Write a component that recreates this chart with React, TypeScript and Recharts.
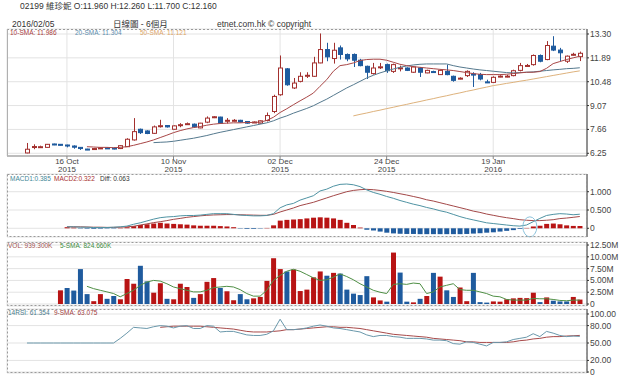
import React from 'react';
import { ComposedChart, Bar, Line, XAxis, YAxis, CartesianGrid, Cell, ReferenceDot } from 'recharts';

const FONT = '"Liberation Sans", Arial, "Noto Sans CJK TC", sans-serif';
const RED = '#b81414';
const BLUE = '#1f5b9e';

// x ticks (trading-day index)
const TICK_IDX = [6, 22, 38, 54, 70];
const TICK_DAY = ['16 Oct', '10 Nov', '02 Dec', '24 Dec', '19 Jan'];
const TICK_YEAR = ['2015', '2015', '2015', '2015', '2016'];

const PRICE_TICKS = [6.25, 7.66, 9.07, 10.48, 11.89, 13.3];
const MACD_TICKS = [0, 0.5, 1];
const VOL_TICKS = [0, 2.5, 5, 7.5, 10, 12.5];
const RSI_TICKS = [0, 20, 50, 80, 100];

// daily candles, 2015/10/08 - 2016/02/05
const OPEN = [
  6.27, 6.63, 6.62, 6.6, 6.8, 6.78, 6.74, 6.68, 6.6, 6.5,
  6.5, 6.52, 6.57, 6.56, 6.53, 6.64, 7.04, 7.67, 7.57, 7.43,
  7.86, 7.89, 7.67, 7.92, 7.98, 7.97, 7.75, 8.09, 8.35, 8.39,
  8.18, 8.18, 8.2, 8.13, 8.08, 8.03, 8.19, 8.72, 9.71, 11.24,
  10.11, 10.5, 10.84, 10.8, 11.59, 12.38, 11.85, 12.48, 12.09, 12.09,
  11.75, 11.39, 10.96, 11.34, 11.49, 11.09, 11.28, 11.29, 11.04, 11.29,
  11.0, 11.08, 10.9, 11.09, 10.8, 10.66, 10.84, 10.93, 10.9, 10.47,
  10.44, 10.79, 10.79, 10.84, 11.15, 11.42, 11.49, 12.03, 11.79, 12.58,
  12.35, 11.69, 12.08, 11.96,
];
const HIGH = [
  6.86, 6.78, 6.7, 6.8, 6.82, 6.8, 6.76, 6.72, 6.62, 6.52,
  6.56, 6.6, 6.6, 6.58, 6.72, 7.14, 8.33, 7.71, 7.61, 7.89,
  8.23, 7.92, 7.9, 8.03, 8.07, 8.01, 8.05, 8.43, 8.45, 8.41,
  8.33, 8.27, 8.23, 8.15, 8.13, 8.19, 8.66, 9.71, 12.03, 11.29,
  10.7, 11.04, 11.04, 11.95, 13.33, 12.78, 12.78, 12.62, 12.15, 12.15,
  11.83, 11.43, 11.59, 11.59, 11.55, 11.55, 11.43, 11.33, 11.39, 11.35,
  11.19, 11.13, 11.19, 11.49, 10.84, 10.74, 11.15, 11.04, 11.0, 10.6,
  10.8, 10.86, 10.88, 11.19, 11.59, 11.53, 12.09, 12.09, 12.88, 13.17,
  12.48, 12.03, 12.19, 12.26,
];
const LOW = [
  6.25, 6.49, 6.58, 6.58, 6.73, 6.71, 6.6, 6.52, 6.45, 6.44,
  6.48, 6.5, 6.52, 6.48, 6.5, 6.62, 7.0, 7.39, 7.38, 7.39,
  7.77, 7.77, 7.65, 7.79, 7.93, 7.77, 7.73, 8.03, 8.33, 8.01,
  8.01, 8.13, 8.07, 8.0, 8.05, 8.01, 8.13, 8.62, 9.65, 10.24,
  10.05, 10.44, 10.7, 10.76, 11.57, 11.69, 11.55, 11.79, 11.69, 11.35,
  11.39, 10.64, 10.9, 11.23, 11.0, 11.0, 11.09, 11.11, 11.0, 10.76,
  10.98, 11.0, 10.88, 10.86, 10.48, 10.62, 10.76, 10.17, 10.56, 10.4,
  10.4, 10.74, 10.74, 10.8, 11.09, 11.37, 11.43, 11.63, 11.75, 12.29,
  11.69, 11.59, 12.03, 11.7,
];
const CLOSE = [
  6.49, 6.65, 6.64, 6.78, 6.75, 6.73, 6.68, 6.61, 6.53, 6.46,
  6.53, 6.57, 6.56, 6.51, 6.7, 7.08, 7.53, 7.47, 7.42, 7.81,
  7.88, 7.81, 7.87, 7.94, 8.0, 7.81, 8.03, 8.33, 8.41, 8.03,
  8.2, 8.2, 8.1, 8.03, 8.1, 8.17, 8.48, 9.61, 11.29, 10.3,
  10.4, 10.8, 10.86, 11.59, 12.38, 11.95, 12.34, 12.09, 11.83, 11.75,
  11.43, 11.04, 11.29, 11.36, 11.13, 11.49, 11.3, 11.15, 11.35, 11.04,
  11.15, 11.05, 11.15, 10.9, 10.56, 10.69, 11.09, 10.88, 10.64, 10.44,
  10.74, 10.81, 10.81, 11.13, 11.43, 11.44, 12.03, 11.69, 12.62, 12.35,
  12.19, 11.99, 12.1, 12.16,
];

// moving averages (first value index given by *_START)
const SMA10_START = 9;
const SMA10 = [
  6.64, 6.62, 6.6, 6.6, 6.58, 6.6, 6.64, 6.72, 6.82, 6.92,
  7.04, 7.18, 7.32, 7.47, 7.59, 7.69, 7.77, 7.83, 7.91, 7.97,
  8.01, 8.03, 8.05, 8.05, 8.07, 8.07, 8.09, 8.19, 8.38, 8.66,
  8.88, 9.12, 9.35, 9.57, 9.81, 10.21, 10.6, 11.1, 11.43, 11.49,
  11.59, 11.73, 11.79, 11.81, 11.81, 11.75, 11.63, 11.51, 11.43, 11.37,
  11.33, 11.29, 11.25, 11.21, 11.18, 11.14, 11.08, 11.02, 10.96, 10.92,
  10.9, 10.9, 10.9, 10.92, 10.96, 11.0, 11.04, 11.04, 11.08, 11.27,
  11.55, 11.67, 11.79, 11.89, 11.986,
];
const SMA20_START = 19;
const SMA20 = [
  6.88, 6.9, 6.92, 6.96, 7.02, 7.08, 7.14, 7.22, 7.3, 7.4,
  7.49, 7.57, 7.65, 7.73, 7.81, 7.89, 7.97, 8.05, 8.17, 8.33,
  8.46, 8.62, 8.76, 8.9, 9.06, 9.26, 9.45, 9.67, 9.89, 10.11,
  10.3, 10.5, 10.7, 10.86, 11.0, 11.12, 11.23, 11.33, 11.41, 11.47,
  11.51, 11.53, 11.53, 11.53, 11.53, 11.43, 11.35, 11.29, 11.23, 11.18,
  11.14, 11.1, 11.06, 11.02, 11.0, 11.02, 11.04, 11.06, 11.1, 11.14,
  11.18, 11.21, 11.25, 11.27, 11.304,
];
const SMA50_START = 49;
const SMA50 = [
  8.46, 8.55, 8.63, 8.72, 8.8, 8.89, 8.97, 9.06, 9.14, 9.23,
  9.31, 9.4, 9.48, 9.57, 9.65, 9.74, 9.82, 9.91, 9.99, 10.08,
  10.16, 10.25, 10.31, 10.38, 10.44, 10.51, 10.57, 10.64, 10.71, 10.78,
  10.85, 10.92, 10.99, 11.06, 11.121,
];

// MACD (from index 6)
const MACD_START = 6;
const MACD1 = [
  0.04, 0.04, 0.03, 0.03, 0.02, 0.02, 0.02, 0.03, 0.04, 0.06,
  0.11, 0.15, 0.2, 0.25, 0.29, 0.31, 0.32, 0.34, 0.35, 0.35,
  0.36, 0.38, 0.4, 0.4, 0.4, 0.38, 0.36, 0.35, 0.34, 0.34,
  0.35, 0.4, 0.56, 0.64, 0.68, 0.77, 0.83, 0.89, 1.02, 1.07,
  1.15, 1.2, 1.21, 1.19, 1.14, 1.05, 0.98, 0.93, 0.87, 0.82,
  0.76, 0.71, 0.66, 0.62, 0.57, 0.53, 0.48, 0.44, 0.38, 0.32,
  0.27, 0.23, 0.19, 0.15, 0.13, 0.11, 0.09, 0.07, 0.06, 0.09,
  0.18, 0.27, 0.35, 0.38, 0.4, 0.39, 0.37, 0.385,
];
const MACD2 = [
  0.04, 0.04, 0.04, 0.035, 0.03, 0.03, 0.025, 0.025, 0.03, 0.04,
  0.055, 0.09, 0.12, 0.155, 0.18, 0.21, 0.245, 0.27, 0.3, 0.32,
  0.34, 0.355, 0.365, 0.37, 0.375, 0.375, 0.37, 0.365, 0.36, 0.355,
  0.355, 0.38, 0.445, 0.5, 0.555, 0.62, 0.665, 0.71, 0.77, 0.83,
  0.89, 0.945, 1.0, 1.035, 1.055, 1.065, 1.055, 1.035, 1.01, 0.98,
  0.945, 0.91, 0.87, 0.83, 0.78, 0.745, 0.7, 0.655, 0.61, 0.565,
  0.52, 0.47, 0.435, 0.39, 0.355, 0.32, 0.29, 0.265, 0.235, 0.22,
  0.21, 0.21, 0.22, 0.235, 0.265, 0.28, 0.3, 0.322,
];
const MACD_DIFF = [
  0.03, 0.02, -0.01, -0.015, -0.02, -0.015, -0.01, -0.01, 0.01, 0.03,
  0.06, 0.09, 0.11, 0.13, 0.15, 0.13, 0.12, 0.11, 0.1, 0.08,
  0.07, 0.07, 0.07, 0.06, 0.05, 0.03, -0.01, -0.02, -0.02, -0.01,
  0.01, 0.08, 0.21, 0.23, 0.24, 0.25, 0.27, 0.29, 0.3, 0.29,
  0.27, 0.23, 0.15, 0.09, 0.02, -0.04, -0.06, -0.09, -0.12, -0.14,
  -0.15, -0.155, -0.155, -0.16, -0.16, -0.16, -0.16, -0.16, -0.16, -0.16,
  -0.155, -0.145, -0.135, -0.12, -0.11, -0.09, -0.07, -0.05, -0.02, 0.01,
  0.05, 0.07, 0.12, 0.13, 0.11, 0.08, 0.065, 0.063,
];

// volume in millions (from index 5), R = up day, B = down day
const VOL_START = 5;
const VOLUME = [
  2.9, 3.4, 2.85, 7.4, 2.1, 0.6, 2.1, 1.1, 1.7, 1.0,
  5.3, 4.3, 8.1, 4.8, 2.4, 4.4, 1.1, 1.0, 4.3, 3.6,
  1.3, 2.1, 4.7, 5.5, 3.4, 2.7, 0.8, 2.1, 1.0, 1.2,
  1.5, 4.9, 9.7, 7.4, 6.9, 7.3, 2.75, 3.05, 5.65, 6.9,
  6.0, 6.6, 6.45, 3.05, 2.2, 1.9, 5.9, 1.4, 0.76, 0.5,
  10.9, 6.66, 0.5, 0.35, 1.1, 1.7, 6.6, 5.8, 2.9, 1.5,
  3.5, 0.6, 6.6, 0.4, 0.3, 0.55, 0.5, 1.0, 1.2, 1.3,
  1.25, 2.4, 0.4, 1.4, 0.7, 0.55, 0.55, 1.5, 0.9393,
];
const VOL_DIR = 'RBBBBRRBBR' + 'RRBBRRBRRR' + 'BRRRBRRBBR' + 'RRRRBRRRRR' + 'BRBBBBBRRB' + 'RBBRBRBRBB' + 'RRBBBRRRRR' + 'RRBRBBBRR';
const VOL_SMA_START = 9;
const VOL_SMA5 = [
  3.75, 3.26, 2.91, 2.57, 2.22, 1.53, 2.22, 2.91, 3.96, 4.65,
  5.0, 4.86, 4.3, 3.61, 3.26, 2.91, 2.57, 2.57, 2.91, 3.47,
  3.61, 3.75, 3.61, 3.05, 2.22, 1.67, 1.67, 2.91, 5.0, 6.04,
  6.94, 7.36, 6.94, 6.25, 5.55, 5.0, 5.14, 5.69, 6.38, 5.83,
  5.14, 4.3, 3.61, 2.91, 2.5, 2.22, 4.16, 4.3, 4.16, 4.44,
  4.3, 2.22, 2.57, 3.61, 3.96, 4.3, 3.05, 2.91, 2.91, 2.57,
  2.22, 1.67, 1.53, 0.97, 0.83, 0.83, 0.83, 1.18, 1.11, 1.11,
  0.97, 0.76, 0.69, 0.83, 0.82466,
];

// 14-day RSI and its 9-day average
const RSI = [
  50, 50, 50, 50, 50, 50, 50, 50, 50, 50,
  50, 50, 50, 50, 58, 67, 77, 76, 75, 78,
  80, 79, 76, 79, 80, 75, 75, 80, 79, 69,
  70, 70, 67, 64, 63, 63, 65, 71, 91, 73,
  73, 74, 76, 79, 81, 79, 76, 75, 73, 71,
  69, 64, 61, 63, 63, 61, 60, 58, 58, 58,
  57, 55, 55, 54, 49, 48, 52, 51, 48, 45,
  51, 51, 52, 56, 58, 60, 66, 61, 70, 67,
  63, 61, 62, 61.354,
];
const RSI_SMA_START = 20;
const RSI_SMA9 = [
  77, 78, 79, 79, 79, 79, 79, 78, 77, 76,
  75, 74, 72, 70, 69, 69, 69, 70, 71, 73,
  73, 74, 75, 76, 77, 78, 78, 77, 77, 76,
  75, 73, 71, 69, 67, 65, 64, 63, 62, 61,
  60, 58, 57, 56, 55, 54, 52, 52, 51, 51,
  51, 51, 51, 52, 54, 55, 57, 58, 60, 61,
  61, 62, 62.5, 63.075,
];

const at = (arr: number[], start: number, i: number) =>
  i >= start && i - start < arr.length ? arr[i - start] : null;

const rows = OPEN.map((o, i) => ({
  i,
  o,
  h: HIGH[i],
  l: LOW[i],
  c: CLOSE[i],
  range: [LOW[i], HIGH[i]],
  sma10: at(SMA10, SMA10_START, i),
  sma20: at(SMA20, SMA20_START, i),
  sma50: at(SMA50, SMA50_START, i),
  macd1: at(MACD1, MACD_START, i),
  macd2: at(MACD2, MACD_START, i),
  diff: at(MACD_DIFF, MACD_START, i),
  vol: at(VOLUME, VOL_START, i),
  volUp: VOL_DIR[i - VOL_START] === 'R',
  volSma: at(VOL_SMA5, VOL_SMA_START, i),
  rsi: RSI[i],
  rsiSma: at(RSI_SMA9, RSI_SMA_START, i),
}));

const last = rows.length - 1;
const X_DOMAIN = [-3, 84.08];

function Candle(props: any) {
  const { x, y, width, height, payload } = props;
  if (!payload || x == null || y == null) return null;
  const top = Math.min(y, y + height);
  const bot = Math.max(y, y + height);
  const span = payload.h - payload.l;
  const ppu = span > 0 ? (bot - top) / span : 0;
  const py = (v: number) => top + (payload.h - v) * ppu;
  const up = payload.c >= payload.o;
  const color = up ? '#a3302e' : BLUE;
  const cx = Math.round(x + width / 2) + 0.5;
  const yo = py(payload.o);
  const yc = py(payload.c);
  const bt = Math.min(yo, yc);
  const bh = Math.max(Math.abs(yo - yc), 1);
  return (
    <g>
      <line x1={cx} x2={cx} y1={top} y2={bot} stroke={color} strokeWidth={1} />
      <rect x={cx - 2} y={bt} width={4} height={bh} fill={up ? '#fff' : color} stroke={color} strokeWidth={1} />
    </g>
  );
}

function DateTick(props: any) {
  const { x, y, payload } = props;
  const k = TICK_IDX.indexOf(payload.value);
  if (k < 0) return null;
  return (
    <text x={x} y={y} textAnchor="middle" fontSize={8} fill="#444" fontFamily={FONT}>
      <tspan x={x} dy={4.5}>{TICK_DAY[k]}</tspan>
      <tspan x={x} dy={8}>{TICK_YEAR[k]}</tspan>
    </text>
  );
}

const yTick = { fontSize: 8.5, fill: '#444', fontFamily: FONT };

function RightAxis({ domain, ticks, fmt }: { domain: number[]; ticks: number[]; fmt: (v: number) => string }) {
  return (
    <YAxis
      orientation="right"
      domain={domain}
      allowDataOverflow
      ticks={ticks}
      interval={0}
      tickFormatter={fmt}
      width={38}
      tick={yTick}
      tickSize={2}
      tickMargin={1}
      axisLine={{ stroke: '#333' }}
      tickLine={{ stroke: '#333' }}
    />
  );
}

function HiddenX() {
  return (
    <XAxis
      dataKey="i"
      type="number"
      domain={X_DOMAIN}
      allowDataOverflow
      ticks={TICK_IDX}
      interval={0}
      height={0}
      tick={false}
      tickLine={false}
      axisLine={false}
    />
  );
}

// lower panels: chart is padded 6px above and below its plot area so tick labels are not clipped
const PAD = 6;
const panel = (top: number): React.CSSProperties => ({ position: 'absolute', left: 0, top: top - PAD });
const margin = { top: PAD, right: 0, bottom: PAD, left: 7 };

export default function App() {
  const lbl = { fontSize: 6.5, fontFamily: FONT };
  return (
    <div style={{ position: 'absolute', left: 0, top: 0, width: 625, height: 380, background: '#fff', overflow: 'hidden' }}>
      <div style={{ position: 'absolute', left: 0, top: 0 }}>
        <ComposedChart width={625} height={175} data={rows} margin={{ top: 29, right: 0, bottom: 0, left: 7 }}>
          <CartesianGrid stroke="#e3e3e3" />
          <XAxis
            dataKey="i"
            type="number"
            domain={X_DOMAIN}
            allowDataOverflow
            ticks={TICK_IDX}
            interval={0}
            height={19}
            tick={(p: any) => <DateTick {...p} />}
            tickSize={3}
            tickMargin={0}
            axisLine={{ stroke: '#888' }}
            tickLine={{ stroke: '#888' }}
          />
          {RightAxis({ domain: [6.09, 13.595], ticks: PRICE_TICKS, fmt: (v) => v.toFixed(2) })}
          <Bar dataKey="range" barSize={5} shape={(p: any) => <Candle {...p} />} isAnimationActive={false} />
          <Line dataKey="sma50" stroke="#deb27c" strokeWidth={1} dot={false} isAnimationActive={false} />
          <Line dataKey="sma20" stroke="#55798e" strokeWidth={1} dot={false} isAnimationActive={false} />
          <Line dataKey="sma10" stroke="#a84646" strokeWidth={1} dot={false} isAnimationActive={false} />
        </ComposedChart>
      </div>

      <div style={panel(174)}>
        <ComposedChart width={625} height={63 + 2 * PAD} data={rows} margin={margin}>
          <CartesianGrid stroke="#e3e3e3" />
          {HiddenX()}
          {RightAxis({ domain: [-0.238, 1.484], ticks: MACD_TICKS, fmt: (v) => (v === 0 ? '0' : v.toFixed(3)) })}
          <Bar dataKey="diff" barSize={5} isAnimationActive={false}>
            {rows.map((r) => (
              <Cell key={r.i} fill={(r.diff ?? 0) >= 0 ? RED : BLUE} />
            ))}
          </Bar>
          <Line dataKey="macd2" stroke="#a34848" strokeWidth={1} dot={false} isAnimationActive={false} />
          <Line dataKey="macd1" stroke="#4f93a3" strokeWidth={1} dot={false} isAnimationActive={false} />
          <ReferenceDot
            x={75.5}
            y={0.04}
            r={10}
            shape={(p: any) => <ellipse cx={p.cx} cy={p.cy} rx={7} ry={10} fill="none" stroke="#8cc3dc" strokeWidth={1} />}
          />
        </ComposedChart>
      </div>

      <div style={panel(242)}>
        <ComposedChart width={625} height={64 + 2 * PAD} data={rows} margin={margin}>
          <CartesianGrid stroke="#e3e3e3" />
          {HiddenX()}
          {RightAxis({ domain: [-0.42, 13.14], ticks: VOL_TICKS, fmt: (v) => (v === 0 ? '0' : v.toFixed(2) + 'M') })}
          <Bar dataKey="vol" barSize={5} isAnimationActive={false}>
            {rows.map((r) => (
              <Cell key={r.i} fill={r.volUp ? RED : BLUE} />
            ))}
          </Bar>
          <Line dataKey="volSma" stroke="#4f8f45" strokeWidth={1} dot={false} isAnimationActive={false} />
        </ComposedChart>
      </div>

      <div style={panel(309)}>
        <ComposedChart width={625} height={64 + 2 * PAD} data={rows} margin={margin}>
          <CartesianGrid stroke="#e3e3e3" />
          {HiddenX()}
          {RightAxis({ domain: [-1.7, 108.6], ticks: RSI_TICKS, fmt: (v) => (v === 0 ? '0' : v.toFixed(2)) })}
          <Line dataKey="rsiSma" stroke="#a84a4a" strokeWidth={1} dot={false} isAnimationActive={false} />
          <Line dataKey="rsi" stroke="#6a98ab" strokeWidth={1} dot={false} isAnimationActive={false} />
        </ComposedChart>
      </div>

      <svg width={625} height={380} style={{ position: 'absolute', left: 0, top: 0, pointerEvents: 'none' }}>
        <line x1={7} x2={587} y1={29.5} y2={29.5} stroke="#9a9a9a" strokeDasharray="2 2" />
        <line x1={7.5} x2={7.5} y1={29} y2={156} stroke="#b0b0b0" />
        <rect x={7.5} y={174.5} width={579} height={62} fill="none" stroke="#9a9a9a" strokeDasharray="2 2" />
        <rect x={7.5} y={242.5} width={579} height={63} fill="none" stroke="#9a9a9a" strokeDasharray="2 2" />
        <rect x={7.5} y={309.5} width={579} height={63} fill="none" stroke="#9a9a9a" strokeDasharray="2 2" />

        <g fontFamily={FONT} fontSize={8.5} fill="#333">
          <text x={20} y={9}>
            {`02199 維珍妮 O:${OPEN[last].toFixed(3)} H:${HIGH[last].toFixed(3)} L:${LOW[last].toFixed(3)} C:${CLOSE[last].toFixed(3)}`}
          </text>
          <text x={12} y={27}>2016/02/05</text>
          <text x={113} y={27}>日線圖 - 6個月</text>
          <text x={217} y={27}>etnet.com.hk © copyright</text>
        </g>

        <g {...lbl}>
          <text x={10} y={34.5} fill="#a83c3c">{`10-SMA: ${SMA10[SMA10.length - 1].toFixed(3)}`}</text>
          <text x={75} y={34.5} fill="#5b8cad">{`20-SMA: ${SMA20[SMA20.length - 1].toFixed(3)}`}</text>
          <text x={140} y={34.5} fill="#dca466">{`50-SMA: ${SMA50[SMA50.length - 1].toFixed(3)}`}</text>

          <text x={10} y={180.5} fill="#3f8797">{`MACD1:${MACD1[MACD1.length - 1].toFixed(3)}`}</text>
          <text x={54} y={180.5} fill="#a83030">{`MACD2:${MACD2[MACD2.length - 1].toFixed(3)}`}</text>
          <text x={100} y={180.5} fill="#333">{`Diff: ${MACD_DIFF[MACD_DIFF.length - 1].toFixed(3)}`}</text>

          <text x={8} y={247.5} fill="#a05050">{`VOL: ${(VOLUME[VOLUME.length - 1] * 1000).toFixed(3)}K`}</text>
          <text x={60} y={247.5} fill="#3d8a3d">{`5-SMA: ${(VOL_SMA5[VOL_SMA5.length - 1] * 1000).toFixed(3)}K`}</text>

          <text x={8} y={314.5} fill="#4a7a8a">{`14RSI: ${RSI[last].toFixed(3)}`}</text>
          <text x={54} y={314.5} fill="#a04040">{`9-SMA: ${RSI_SMA9[RSI_SMA9.length - 1].toFixed(3)}`}</text>
        </g>
      </svg>
    </div>
  );
}
